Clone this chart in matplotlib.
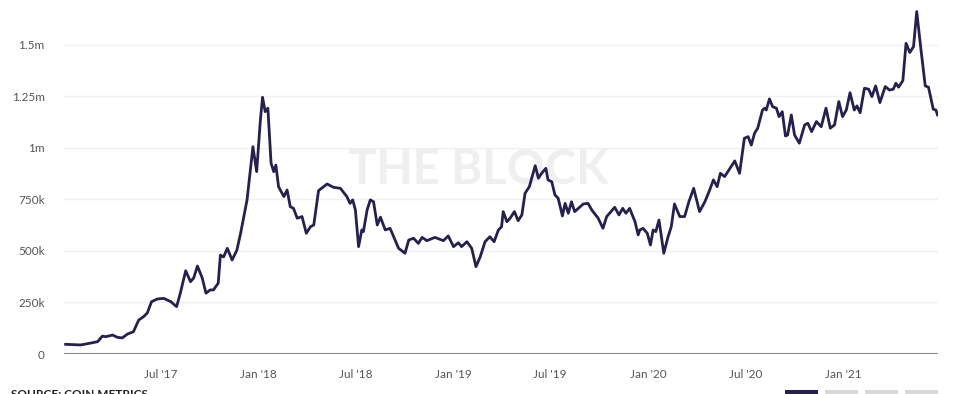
import matplotlib.pyplot as plt
import matplotlib.transforms as mtransforms
from matplotlib.patches import Rectangle
import pandas as pd

dates = [
    '2017-01-04', '2017-02-01', '2017-02-20', '2017-03-05', '2017-03-14', '2017-03-20',
    '2017-04-02', '2017-04-11', '2017-04-20', '2017-04-30', '2017-05-11', '2017-05-21',
    '2017-05-30', '2017-06-06', '2017-06-14', '2017-06-25', '2017-07-07', '2017-07-20',
    '2017-07-31', '2017-08-07', '2017-08-17', '2017-08-26', '2017-09-01', '2017-09-08',
    '2017-09-17', '2017-09-24', '2017-10-02', '2017-10-08', '2017-10-17', '2017-10-21',
    '2017-10-27', '2017-11-03', '2017-11-12', '2017-11-21', '2017-11-28', '2017-12-10',
    '2017-12-21', '2017-12-28', '2018-01-04', '2018-01-08', '2018-01-13', '2018-01-18',
    '2018-01-24', '2018-01-29', '2018-02-02', '2018-02-07', '2018-02-17', '2018-02-23',
    '2018-03-01', '2018-03-07', '2018-03-14', '2018-03-23', '2018-03-31', '2018-04-08',
    '2018-04-14', '2018-04-23', '2018-05-09', '2018-05-21', '2018-06-03', '2018-06-15',
    '2018-06-21', '2018-06-26', '2018-07-01', '2018-07-07', '2018-07-13', '2018-07-16',
    '2018-07-23', '2018-07-29', '2018-08-04', '2018-08-11', '2018-08-17', '2018-08-26',
    '2018-09-04', '2018-09-12', '2018-09-20', '2018-10-02', '2018-10-09', '2018-10-18',
    '2018-10-27', '2018-11-03', '2018-11-12', '2018-11-27', '2018-12-13', '2018-12-22',
    '2019-01-01', '2019-01-10', '2019-01-16', '2019-01-26', '2019-02-04', '2019-02-12',
    '2019-02-20', '2019-03-01', '2019-03-10', '2019-03-18', '2019-03-26', '2019-04-01',
    '2019-04-04', '2019-04-11', '2019-04-17', '2019-04-25', '2019-05-02', '2019-05-09',
    '2019-05-15', '2019-05-23', '2019-06-03', '2019-06-09', '2019-06-15', '2019-06-23',
    '2019-06-27', '2019-07-04', '2019-07-10', '2019-07-16', '2019-07-24', '2019-07-29',
    '2019-08-04', '2019-08-10', '2019-08-16', '2019-09-01', '2019-09-10', '2019-09-17',
    '2019-09-29', '2019-10-08', '2019-10-15', '2019-10-30', '2019-11-07', '2019-11-14',
    '2019-11-20', '2019-11-27', '2019-12-07', '2019-12-13', '2019-12-16', '2019-12-22',
    '2019-12-30', '2020-01-05', '2020-01-10', '2020-01-15', '2020-01-21', '2020-01-30',
    '2020-02-07', '2020-02-13', '2020-02-19', '2020-02-29', '2020-03-09', '2020-03-17',
    '2020-03-26', '2020-04-06', '2020-04-16', '2020-04-25', '2020-05-02', '2020-05-09',
    '2020-05-15', '2020-05-23', '2020-05-31', '2020-06-11', '2020-06-20', '2020-06-29',
    '2020-07-06', '2020-07-12', '2020-07-18', '2020-07-24', '2020-08-02', '2020-08-06',
    '2020-08-09', '2020-08-15', '2020-08-21', '2020-08-28', '2020-09-02', '2020-09-08',
    '2020-09-14', '2020-09-18', '2020-09-25', '2020-10-01', '2020-10-10', '2020-10-20',
    '2020-10-26', '2020-11-02', '2020-11-11', '2020-11-20', '2020-11-29', '2020-12-07',
    '2020-12-15', '2020-12-23', '2020-12-30', '2021-01-06', '2021-01-13', '2021-01-21',
    '2021-01-26', '2021-02-01', '2021-02-09', '2021-02-17', '2021-02-23', '2021-03-02',
    '2021-03-10', '2021-03-20', '2021-03-28', '2021-04-04', '2021-04-09', '2021-04-14',
    '2021-04-22', '2021-04-28', '2021-05-05', '2021-05-12', '2021-05-18', '2021-05-26',
    '2021-06-03', '2021-06-09', '2021-06-18', '2021-06-23', '2021-06-26',
]

# values in thousands
values = [
    47, 44, 53, 60, 87, 84,
    92, 81, 78, 97, 108, 165,
    181, 199, 254, 267, 270, 254,
    230, 296, 404, 351, 369, 427,
    369, 295, 311, 311, 344, 480,
    471, 513, 456, 505, 587, 748,
    1006, 885, 1136, 1246, 1176, 1193,
    926, 885, 917, 812, 764, 796,
    715, 707, 659, 667, 586, 618,
    626, 793, 825, 809, 804, 764,
    731, 748, 699, 521, 602, 594,
    699, 748, 739, 626, 664, 602,
    610, 562, 513, 489, 553, 562,
    537, 566, 550, 566, 550, 573,
    521, 540, 521, 545, 513, 424,
    472, 545, 569, 545, 602, 618,
    691, 642, 659, 691, 647, 675,
    780, 812, 914, 853, 877, 901,
    845, 836, 772, 756, 670, 731,
    683, 739, 691, 728, 731, 699,
    659, 610, 667, 712, 675, 707,
    683, 707, 642, 578, 602, 610,
    586, 529, 602, 594, 650, 489,
    569, 618, 728, 667, 667, 739,
    804, 691, 739, 796, 845, 812,
    877, 861, 893, 937, 877, 1047,
    1055, 1014, 1071, 1096, 1184, 1193,
    1184, 1238, 1200, 1193, 1152, 1176,
    1058, 1063, 1160, 1063, 1023, 1112,
    1120, 1079, 1128, 1103, 1193, 1096,
    1112, 1225, 1152, 1184, 1268, 1184,
    1204, 1171, 1290, 1285, 1249, 1301,
    1220, 1298, 1281, 1285, 1314, 1295,
    1327, 1508, 1463, 1492, 1662, 1476,
    1301, 1295, 1188, 1184, 1160,
]

y_ticks = [0, 250, 500, 750, 1000, 1250, 1500]
y_labels = ['0', '250k', '500k', '750k', '1m', '1.25m', '1.5m']
x_ticks = ['2017-07-01', '2018-01-01', '2018-07-01', '2019-01-01',
           '2019-07-01', '2020-01-01', '2020-07-01', '2021-01-01']
x_labels = ["Jul '17", "Jan '18", "Jul '18", "Jan '19",
            "Jul '19", "Jan '20", "Jul '20", "Jan '21"]

plt.rcParams['font.family'] = ['Lato', 'DejaVu Sans']

x = pd.to_datetime(dates)
fig = plt.figure(figsize=(9.6, 3.94), dpi=100)
ax = fig.add_axes([0.0667, 0.1015, 0.9099, 0.8985])

ax.text(0.474, 0.52, 'THE BLOCK', transform=ax.transAxes, ha='center', va='center',
        fontsize=34, fontweight='bold', color='#efefef', zorder=0)

ax.plot(x, values, color='#24214e', lw=2.0, zorder=3, solid_joinstyle='round')

ax.set_yticks(y_ticks)
ax.set_yticklabels(y_labels)
ax.set_xticks(pd.to_datetime(x_ticks))
ax.set_xticklabels(x_labels)
ax.set_xlim(pd.Timestamp('2017-01-01'), pd.Timestamp('2021-06-26'))
ax.set_ylim(0, 1718)

for v in y_ticks[1:]:
    ax.axhline(v, color='#f0f0f0', lw=1, zorder=1)
ax.axhline(0, color='#8a8a8a', lw=1.5, zorder=2)

ax.tick_params(axis='both', length=0, labelsize=8.5, colors='#555555')
ax.tick_params(axis='y', pad=14)
ax.tick_params(axis='x', pad=11)
for s in ax.spines.values():
    s.set_visible(False)

# top tick label that sits above the visible area
trans = mtransforms.blended_transform_factory(ax.transAxes, ax.transData)
ax.text(-14 / 873, 1750, '1.75m', transform=trans, ha='right', va='center',
        fontsize=8.5, color='#555555', clip_on=False)

fig.text(0.011, 0.0127, 'SOURCE: COIN METRICS', fontsize=8.5, fontweight='bold',
         color='#222222', va='top')
btn_x = [785, 825, 865, 905]
btn_c = ['#24214e', '#d9d9d9', '#d9d9d9', '#d9d9d9']
for bx, bc in zip(btn_x, btn_c):
    fig.add_artist(Rectangle((bx / 960, 0), 33 / 960, 4 / 394, transform=fig.transFigure,
                             color=bc, lw=0))

fig.savefig('out.png', dpi=100)
